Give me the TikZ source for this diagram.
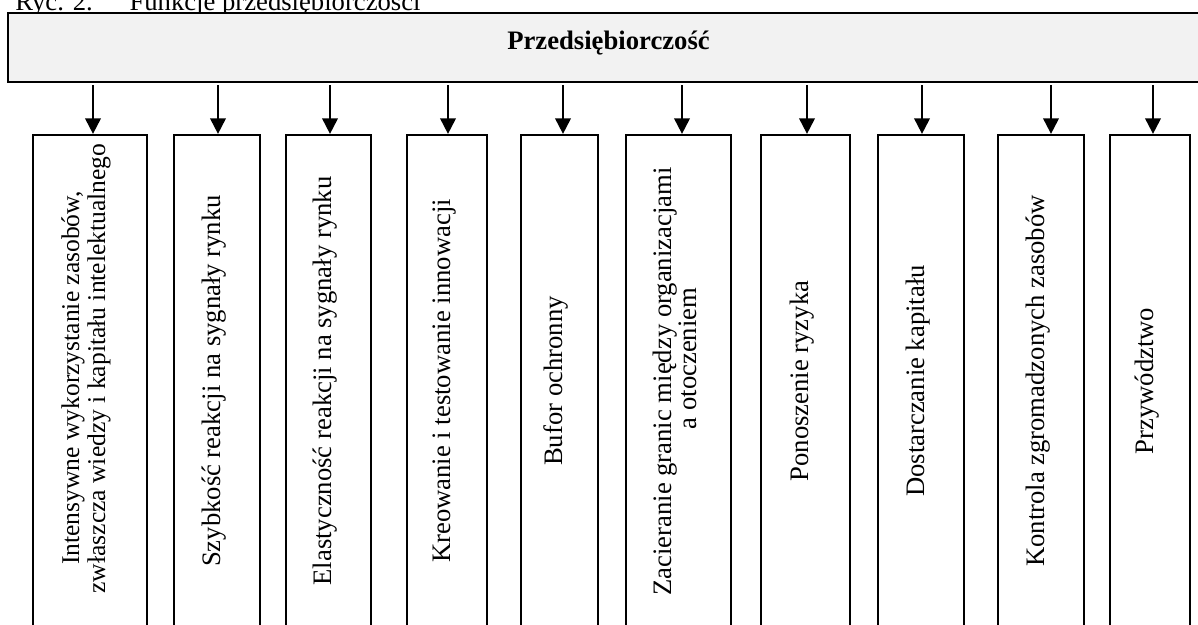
\documentclass[tikz,border=0pt]{standalone}
\usepackage{fontspec}
\setmainfont{Liberation Serif}
\usetikzlibrary{arrows.meta,fit}
\definecolor{lightbg}{HTML}{F2F2F2}
\begin{document}
\begin{tikzpicture}[x=0.45pt,y=-0.45pt,
  every node/.style={font=\fontsize{12}{14}\selectfont},
  topbox/.style={draw=black, fill=lightbg, line width=1pt, inner sep=0pt},
  fbox/.style={draw=black, line width=1pt, inner sep=0pt},
  lab/.style={rotate=90, inner sep=0pt, anchor=base},
  smalllab/.style={lab, font=\fontsize{11.5}{13}\selectfont},
  arr/.style={-{Triangle[width=7pt,length=7pt]}, line width=0.9pt}]
\useasboundingbox (0,0) rectangle (1198,624);

% caption (cut at top)
\node (cap) [anchor=base west, inner sep=0pt] at (15,10) {Ryc. 2.\hspace{16.5pt}Funkcje przedsiębiorczości};

% top box
\node (top) [topbox, fit={(8,13) (1210,82)}] {};
\node (title) [anchor=base, inner sep=0pt, font=\fontsize{12}{14}\selectfont\bfseries] at (608.5,49) {Przedsiębiorczość};

% function boxes
\node (b1)  [fbox, fit={(33,135) (147,632)}] {};
\node (b2)  [fbox, fit={(174,135) (260,632)}] {};
\node (b3)  [fbox, fit={(286,135) (371,632)}] {};
\node (b4)  [fbox, fit={(407,135) (487,632)}] {};
\node (b5)  [fbox, fit={(521,135) (598,632)}] {};
\node (b6)  [fbox, fit={(626,135) (731,632)}] {};
\node (b7)  [fbox, fit={(761,135) (850,632)}] {};
\node (b8)  [fbox, fit={(878,135) (964,632)}] {};
\node (b9)  [fbox, fit={(998,135) (1084,632)}] {};
\node (b10) [fbox, fit={(1110,135) (1190,632)}] {};

% labels
\node (t1a) [smalllab] at (79,378) {Intensywne wykorzystanie zasobów,};
\node (t1b) [smalllab] at (105,368.5) {zwłaszcza wiedzy i kapitału intelektualnego};
\node (t2)  [lab] at (220,381) {Szybkość reakcji na sygnały rynku};
\node (t3)  [lab] at (331.5,381) {Elastyczność reakcji na sygnały rynku};
\node (t4)  [lab] at (450,381) {Kreowanie i testowanie innowacji};
\node (t5)  [lab] at (562.5,381) {Bufor ochronny};
\node (t6a) [lab] at (671,381.5) {Zacieranie granic między organizacjami};
\node (t6b) [lab] at (696,358.5) {a otoczeniem};
\node (t7)  [lab] at (808.5,381) {Ponoszenie ryzyka};
\node (t8)  [lab] at (924,381) {Dostarczanie kapitału};
\node (t9)  [lab] at (1044,381) {Kontrola zgromadzonych zasobów};
\node (t10) [lab] at (1153,381) {Przywództwo};

% arrow starts
\coordinate (s1) at (93,85);
\coordinate (s2) at (218,85);
\coordinate (s3) at (330,85);
\coordinate (s4) at (448,85);
\coordinate (s5) at (563,85);
\coordinate (s6) at (682,85);
\coordinate (s7) at (807,85);
\coordinate (s8) at (922,85);
\coordinate (s9) at (1051,85);
\coordinate (s10) at (1153,85);

\foreach \i in {1,...,10}{
  \draw[arr] (s\i) -- (s\i |- b\i.north);
}
\end{tikzpicture}
\end{document}
